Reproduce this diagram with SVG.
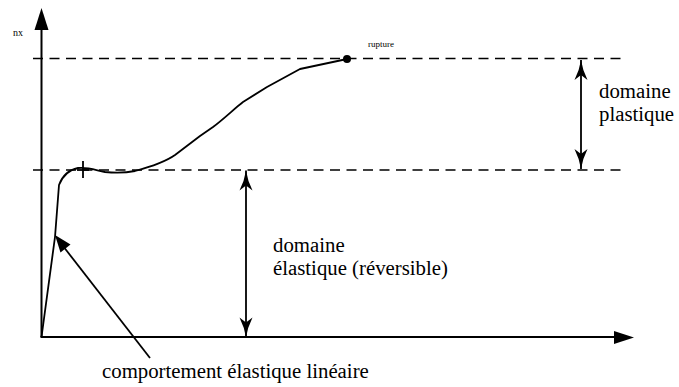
<svg xmlns="http://www.w3.org/2000/svg" width="679" height="387" viewBox="0 0 679 387">
<defs>
<style>
.ax{stroke:#000;stroke-width:2;fill:none}
.dash{stroke:#000;stroke-width:1.6;stroke-dasharray:10 6.5;fill:none}
.crv{stroke:#000;stroke-width:1.8;fill:none;stroke-linejoin:round}
.dim{stroke:#000;stroke-width:1.8;fill:none}
text{font-family:'Liberation Serif','Times New Roman','DejaVu Serif',serif;fill:#000}
.t{font-size:20.8px}
</style>
<marker id="barb" viewBox="-21 -7 22 14" refX="0" refY="0" markerWidth="22" markerHeight="14" markerUnits="userSpaceOnUse" orient="auto-start-reverse">
<path d="M0,0 Q-10,1.5 -20,6.5 L-15,0 L-20,-6.5 Q-10,-1.5 0,0 Z" fill="#000"/>
</marker>
</defs>
<g id="axes">
<line class="ax" x1="41.5" y1="28" x2="41.5" y2="337"/>
<polygon points="41.5,8 34.5,30 48.5,30" fill="#000"/>
<line class="ax" x1="40.5" y1="337" x2="616" y2="337"/>
<polygon points="634,337.5 614,331 614,344" fill="#000"/>
<text x="13" y="36" font-size="10">nx</text>
</g>
<g id="levels">
<line class="dash" x1="33" y1="58.5" x2="622" y2="58.5"/>
<line class="dash" x1="33" y1="170" x2="622" y2="170"/>
</g>
<g id="curve">
<path class="crv" d="M41.5,337 L55,237 L59,185 C62,177 68,170 78,168 C88,167 95,170 105,172 C115,173 125,173 135,171 C150,167 165,162 175,155 L200,136 L213,127 C225,118 235,108 243,102 L267,87 L300,69 L347,59"/>
<line class="crv" x1="83" y1="161" x2="83" y2="178"/>
<line class="crv" x1="77" y1="170" x2="89" y2="170"/>
<circle cx="347" cy="59" r="4" fill="#000"/>
<text x="368" y="47" font-size="9">rupture</text>
</g>
<g id="connectors">
<line class="dim" x1="581" y1="60" x2="581" y2="169" marker-start="url(#barb)" marker-end="url(#barb)"/>
<line class="dim" x1="246" y1="170.5" x2="246" y2="337.5" marker-start="url(#barb)" marker-end="url(#barb)"/>
<line class="dim" x1="150" y1="358" x2="63" y2="246"/>
<polygon points="55,235 60.5,252.5 70.5,244.5" fill="#000"/>
</g>
<g id="label-plastique">
<text class="t" x="599" y="98">domaine</text>
<text class="t" x="599" y="121">plastique</text>
</g>
<g id="label-elastique">
<text class="t" x="273" y="252">domaine</text>
<text class="t" x="273" y="275">élastique (réversible)</text>
</g>
<g id="label-lineaire">
<text class="t" x="102" y="378">comportement élastique linéaire</text>
</g>
</svg>
